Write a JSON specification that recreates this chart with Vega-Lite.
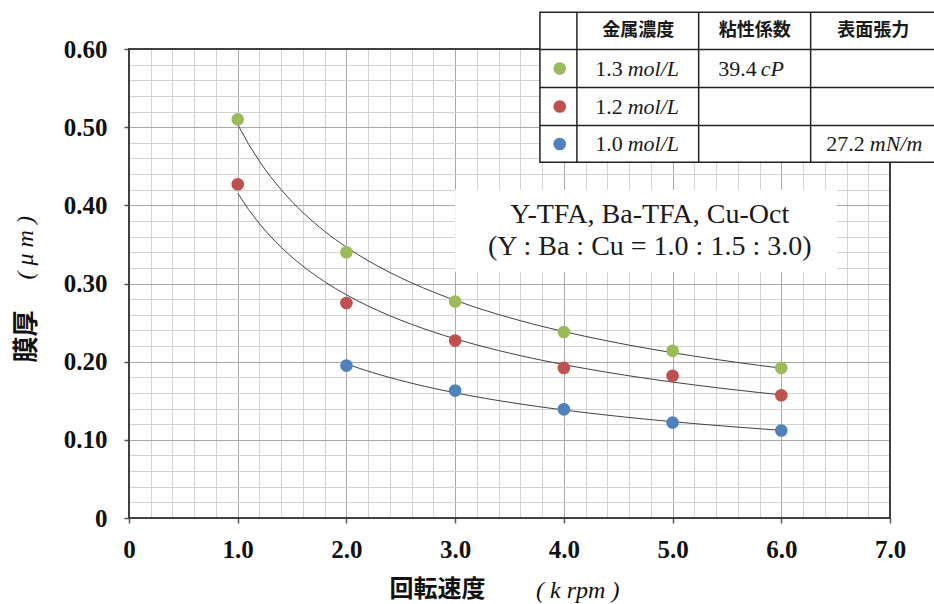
{
  "$schema": "https://vega.github.io/schema/vega-lite/v6.json",
  "width": 761,
  "height": 469,
  "autosize": {"type": "none"},
  "padding": {"left": 129, "top": 49, "right": 44, "bottom": 86},
  "background": "white",
  "config": {"view": {"stroke": null}},
  "data": {"values": [{}]},
  "datasets": {
    "thickness": [
      {"series": "1.3 mol/L", "rpm": 1, "thickness": 0.510},
      {"series": "1.3 mol/L", "rpm": 2, "thickness": 0.340},
      {"series": "1.3 mol/L", "rpm": 3, "thickness": 0.277},
      {"series": "1.3 mol/L", "rpm": 4, "thickness": 0.238},
      {"series": "1.3 mol/L", "rpm": 5, "thickness": 0.214},
      {"series": "1.3 mol/L", "rpm": 6, "thickness": 0.192},
      {"series": "1.2 mol/L", "rpm": 1, "thickness": 0.427},
      {"series": "1.2 mol/L", "rpm": 2, "thickness": 0.275},
      {"series": "1.2 mol/L", "rpm": 3, "thickness": 0.227},
      {"series": "1.2 mol/L", "rpm": 4, "thickness": 0.192},
      {"series": "1.2 mol/L", "rpm": 5, "thickness": 0.182},
      {"series": "1.2 mol/L", "rpm": 6, "thickness": 0.157},
      {"series": "1.0 mol/L", "rpm": 2, "thickness": 0.195},
      {"series": "1.0 mol/L", "rpm": 3, "thickness": 0.163},
      {"series": "1.0 mol/L", "rpm": 4, "thickness": 0.139},
      {"series": "1.0 mol/L", "rpm": 5, "thickness": 0.122},
      {"series": "1.0 mol/L", "rpm": 6, "thickness": 0.112}
    ],
    "solutions": [
      {"series": "1.3 mol/L", "conc": 1.3, "visc": 39.4, "tension": null},
      {"series": "1.2 mol/L", "conc": 1.2, "visc": null, "tension": null},
      {"series": "1.0 mol/L", "conc": 1.0, "visc": null, "tension": 27.2}
    ]
  },
  "resolve": {"axis": {"x": "independent", "y": "independent"}},
  "layer": [
    {
      "mark": {"type": "rect", "fillOpacity": 0, "stroke": "#404040", "strokeWidth": 2},
      "encoding": {
        "x": {"datum": 0, "axis": null}, "x2": {"datum": 7},
        "y": {"datum": 0, "axis": null}, "y2": {"datum": 0.6}
      }
    },
    {
      "mark": {"type": "rect", "fill": "white"},
      "encoding": {
        "x": {"datum": 3.0, "axis": null}, "x2": {"datum": 6.51},
        "y": {"datum": 0.42, "axis": null}, "y2": {"datum": 0.315}
      }
    },
    {
      "mark": {"type": "text", "align": "center", "baseline": "middle", "font": "Liberation Serif", "fontSize": 28, "color": "#1a1a1a"},
      "encoding": {"x": {"datum": 4.79, "axis": null}, "y": {"datum": 0.388, "axis": null}, "text": {"value": "Y-TFA, Ba-TFA, Cu-Oct"}}
    },
    {
      "mark": {"type": "text", "align": "center", "baseline": "middle", "font": "Liberation Serif", "fontSize": 28, "color": "#1a1a1a"},
      "encoding": {"x": {"datum": 4.79, "axis": null}, "y": {"datum": 0.3466, "axis": null}, "text": {"value": "(Y : Ba : Cu = 1.0 : 1.5 : 3.0)"}}
    },
    {
      "data": {"name": "thickness"},
      "transform": [
        {"regression": "thickness", "on": "rpm", "groupby": ["series"], "method": "pow"}
      ],
      "mark": {"type": "line", "color": "#404040", "strokeWidth": 1},
      "encoding": {
        "x": {"field": "rpm", "type": "quantitative", "axis": null},
        "y": {"field": "thickness", "type": "quantitative", "axis": null},
        "detail": {"field": "series", "type": "nominal"}
      }
    },
    {
      "data": {"name": "thickness"},
      "mark": {"type": "point", "filled": true, "size": 160, "opacity": 1},
      "encoding": {
        "x": {
          "field": "rpm", "type": "quantitative",
          "scale": {"domain": [0, 7], "nice": false, "zero": false},
          "axis": {
            "title": "回転速度",
            "values": [0, 0.2, 0.4, 0.6, 0.8, 1, 1.2, 1.4, 1.6, 1.8, 2, 2.2, 2.4, 2.6, 2.8, 3, 3.2, 3.4, 3.6, 3.8, 4, 4.2, 4.4, 4.6, 4.8, 5, 5.2, 5.4, 5.6, 5.8, 6, 6.2, 6.4, 6.6, 6.8, 7],
            "orient": "bottom",
            "domain": false,
            "grid": true,
            "gridColor": {"condition": {"test": "abs(datum.value - round(datum.value)) < 0.001", "value": "#a8a8a8"}, "value": "#d2d2d2"},
            "gridWidth": 1,
            "tickSize": 5,
            "tickWidth": 1.5,
            "tickColor": "#555555",
            "tickOpacity": {"condition": {"test": "abs(datum.value - round(datum.value)) < 0.001", "value": 1}, "value": 0},
            "labelExpr": "abs(datum.value - round(datum.value)) < 0.001 ? (datum.value == 0 ? '0' : format(datum.value, '.1f')) : ''",
            "labelFont": "Liberation Serif",
            "labelFontSize": 25,
            "labelFontWeight": "bold",
            "labelColor": "#111111",
            "labelPadding": 14,
            "labelOverlap": false,
            "labelFlush": false,
            "labelBound": false,
            "titleFont": "Noto Sans CJK JP",
            "titleFontSize": 24,
            "titleFontWeight": "bold",
            "titleColor": "#111111",
            "titleX": 308,
            "titleY": 71,
            "titleAlign": "center",
            "titleBaseline": "middle"
          }
        },
        "y": {
          "field": "thickness", "type": "quantitative",
          "scale": {"domain": [0, 0.6], "nice": false, "zero": false},
          "axis": {
            "title": "膜厚",
            "values": [0, 0.02, 0.04, 0.06, 0.08, 0.1, 0.12, 0.14, 0.16, 0.18, 0.2, 0.22, 0.24, 0.26, 0.28, 0.3, 0.32, 0.34, 0.36, 0.38, 0.4, 0.42, 0.44, 0.46, 0.48, 0.5, 0.52, 0.54, 0.56, 0.58, 0.6],
            "orient": "left",
            "domain": false,
            "grid": true,
            "gridColor": {"condition": {"test": "abs(datum.value * 10 - round(datum.value * 10)) < 0.001", "value": "#a8a8a8"}, "value": "#d2d2d2"},
            "gridWidth": 1,
            "tickSize": 5,
            "tickWidth": 1.5,
            "tickColor": "#555555",
            "tickOpacity": {"condition": {"test": "abs(datum.value * 10 - round(datum.value * 10)) < 0.001", "value": 1}, "value": 0},
            "labelExpr": "abs(datum.value * 10 - round(datum.value * 10)) < 0.001 ? (datum.value == 0 ? '0' : format(datum.value, '.2f')) : ''",
            "labelFont": "Liberation Serif",
            "labelFontSize": 25,
            "labelFontWeight": "bold",
            "labelColor": "#111111",
            "labelPadding": 17,
            "labelOverlap": false,
            "labelFlush": false,
            "labelBound": false,
            "titleFont": "Noto Sans CJK JP",
            "titleFontSize": 26,
            "titleFontWeight": "bold",
            "titleColor": "#111111",
            "titleAngle": 270,
            "titleX": -103,
            "titleY": 287,
            "titleAlign": "center",
            "titleBaseline": "middle"
          }
        },
        "color": {
          "field": "series", "type": "nominal",
          "scale": {"domain": ["1.3 mol/L", "1.2 mol/L", "1.0 mol/L"], "range": ["#9BBB59", "#C0504D", "#4F81BD"]},
          "legend": null
        }
      }
    },
    {
      "mark": {"type": "text", "align": "center", "baseline": "middle", "font": "Liberation Serif", "fontSize": 24, "fontStyle": "italic", "color": "#111111"},
      "encoding": {"x": {"datum": 4.128, "axis": null}, "y": {"datum": -0.0935, "axis": null}, "text": {"value": "( k rpm )"}}
    },
    {
      "mark": {"type": "text", "align": "center", "baseline": "middle", "angle": 270, "font": "Liberation Serif", "fontSize": 24, "fontStyle": "italic", "color": "#111111"},
      "encoding": {"x": {"datum": -0.95, "axis": null}, "y": {"datum": 0.3457, "axis": null}, "text": {"value": "( μ m )"}}
    },
    {
      "mark": {"type": "rect", "fill": "white", "stroke": "#222222", "strokeWidth": 1.5},
      "encoding": {
        "x": {"datum": 3.78, "axis": null}, "x2": {"datum": 7.6},
        "y": {"datum": 0.455, "axis": null}, "y2": {"datum": 0.647}
      }
    },
    {
      "mark": {"type": "rule", "color": "#222222", "strokeWidth": 1.5},
      "encoding": {"x": {"datum": 4.12, "axis": null}, "y": {"datum": 0.455, "axis": null}, "y2": {"datum": 0.647}}
    },
    {
      "mark": {"type": "rule", "color": "#222222", "strokeWidth": 1.5},
      "encoding": {"x": {"datum": 5.24, "axis": null}, "y": {"datum": 0.455, "axis": null}, "y2": {"datum": 0.647}}
    },
    {
      "mark": {"type": "rule", "color": "#222222", "strokeWidth": 1.5},
      "encoding": {"x": {"datum": 6.27, "axis": null}, "y": {"datum": 0.455, "axis": null}, "y2": {"datum": 0.647}}
    },
    {
      "mark": {"type": "rule", "color": "#222222", "strokeWidth": 1.5},
      "encoding": {"x": {"datum": 3.78, "axis": null}, "x2": {"datum": 7.6}, "y": {"datum": 0.5993, "axis": null}}
    },
    {
      "mark": {"type": "rule", "color": "#222222", "strokeWidth": 1.5},
      "encoding": {"x": {"datum": 3.78, "axis": null}, "x2": {"datum": 7.6}, "y": {"datum": 0.5507, "axis": null}}
    },
    {
      "mark": {"type": "rule", "color": "#222222", "strokeWidth": 1.5},
      "encoding": {"x": {"datum": 3.78, "axis": null}, "x2": {"datum": 7.6}, "y": {"datum": 0.5021, "axis": null}}
    },
    {
      "mark": {"type": "text", "align": "center", "baseline": "middle", "font": "Noto Sans CJK JP", "fontSize": 18, "fontWeight": "bold", "color": "#1a1a1a"},
      "encoding": {"x": {"datum": 4.684, "axis": null}, "y": {"datum": 0.6233, "axis": null}, "text": {"value": "金属濃度"}}
    },
    {
      "mark": {"type": "text", "align": "center", "baseline": "middle", "font": "Noto Sans CJK JP", "fontSize": 18, "fontWeight": "bold", "color": "#1a1a1a"},
      "encoding": {"x": {"datum": 5.756, "axis": null}, "y": {"datum": 0.6233, "axis": null}, "text": {"value": "粘性係数"}}
    },
    {
      "mark": {"type": "text", "align": "center", "baseline": "middle", "font": "Noto Sans CJK JP", "fontSize": 18, "fontWeight": "bold", "color": "#1a1a1a"},
      "encoding": {"x": {"datum": 6.846, "axis": null}, "y": {"datum": 0.6233, "axis": null}, "text": {"value": "表面張力"}}
    },
    {
      "data": {"name": "solutions"},
      "transform": [{"filter": "datum.series === '1.3 mol/L'"}],
      "mark": {"type": "point", "filled": true, "size": 160, "opacity": 1},
      "encoding": {"x": {"datum": 3.962, "axis": null}, "y": {"datum": 0.575, "axis": null}, "color": {"field": "series", "type": "nominal", "legend": null}}
    },
    {
      "data": {"name": "solutions"},
      "transform": [{"filter": "datum.series === '1.2 mol/L'"}],
      "mark": {"type": "point", "filled": true, "size": 160, "opacity": 1},
      "encoding": {"x": {"datum": 3.962, "axis": null}, "y": {"datum": 0.5264, "axis": null}, "color": {"field": "series", "type": "nominal", "legend": null}}
    },
    {
      "data": {"name": "solutions"},
      "transform": [{"filter": "datum.series === '1.0 mol/L'"}],
      "mark": {"type": "point", "filled": true, "size": 160, "opacity": 1},
      "encoding": {"x": {"datum": 3.962, "axis": null}, "y": {"datum": 0.4785, "axis": null}, "color": {"field": "series", "type": "nominal", "legend": null}}
    },
    {
      "data": {"name": "solutions"},
      "transform": [{"filter": "datum.series === '1.3 mol/L'"}],
      "mark": {"type": "text", "align": "right", "baseline": "middle", "font": "Liberation Serif", "fontSize": 22, "color": "#1a1a1a"},
      "encoding": {"x": {"datum": 4.541, "axis": null}, "y": {"datum": 0.575, "axis": null}, "text": {"field": "conc", "type": "quantitative", "format": ".1f"}}
    },
    {
      "data": {"name": "solutions"},
      "transform": [{"filter": "datum.series === '1.2 mol/L'"}],
      "mark": {"type": "text", "align": "right", "baseline": "middle", "font": "Liberation Serif", "fontSize": 22, "color": "#1a1a1a"},
      "encoding": {"x": {"datum": 4.541, "axis": null}, "y": {"datum": 0.5264, "axis": null}, "text": {"field": "conc", "type": "quantitative", "format": ".1f"}}
    },
    {
      "data": {"name": "solutions"},
      "transform": [{"filter": "datum.series === '1.0 mol/L'"}],
      "mark": {"type": "text", "align": "right", "baseline": "middle", "font": "Liberation Serif", "fontSize": 22, "color": "#1a1a1a"},
      "encoding": {"x": {"datum": 4.541, "axis": null}, "y": {"datum": 0.4785, "axis": null}, "text": {"field": "conc", "type": "quantitative", "format": ".1f"}}
    },
    {
      "mark": {"type": "text", "align": "left", "baseline": "middle", "font": "Liberation Serif", "fontSize": 22, "fontStyle": "italic", "color": "#1a1a1a"},
      "encoding": {"x": {"datum": 4.587, "axis": null}, "y": {"datum": 0.575, "axis": null}, "text": {"value": "mol/L"}}
    },
    {
      "mark": {"type": "text", "align": "left", "baseline": "middle", "font": "Liberation Serif", "fontSize": 22, "fontStyle": "italic", "color": "#1a1a1a"},
      "encoding": {"x": {"datum": 4.587, "axis": null}, "y": {"datum": 0.5264, "axis": null}, "text": {"value": "mol/L"}}
    },
    {
      "mark": {"type": "text", "align": "left", "baseline": "middle", "font": "Liberation Serif", "fontSize": 22, "fontStyle": "italic", "color": "#1a1a1a"},
      "encoding": {"x": {"datum": 4.587, "axis": null}, "y": {"datum": 0.4785, "axis": null}, "text": {"value": "mol/L"}}
    },
    {
      "data": {"name": "solutions"},
      "transform": [{"filter": "isValid(datum.visc)"}],
      "mark": {"type": "text", "align": "right", "baseline": "middle", "font": "Liberation Serif", "fontSize": 22, "color": "#1a1a1a"},
      "encoding": {"x": {"datum": 5.775, "axis": null}, "y": {"datum": 0.575, "axis": null}, "text": {"field": "visc", "type": "quantitative", "format": ".1f"}}
    },
    {
      "mark": {"type": "text", "align": "left", "baseline": "middle", "font": "Liberation Serif", "fontSize": 22, "fontStyle": "italic", "color": "#1a1a1a"},
      "encoding": {"x": {"datum": 5.81, "axis": null}, "y": {"datum": 0.575, "axis": null}, "text": {"value": "cP"}}
    },
    {
      "data": {"name": "solutions"},
      "transform": [{"filter": "isValid(datum.tension)"}],
      "mark": {"type": "text", "align": "right", "baseline": "middle", "font": "Liberation Serif", "fontSize": 22, "color": "#1a1a1a"},
      "encoding": {"x": {"datum": 6.768, "axis": null}, "y": {"datum": 0.4785, "axis": null}, "text": {"field": "tension", "type": "quantitative", "format": ".1f"}}
    },
    {
      "mark": {"type": "text", "align": "left", "baseline": "middle", "font": "Liberation Serif", "fontSize": 22, "fontStyle": "italic", "color": "#1a1a1a"},
      "encoding": {"x": {"datum": 6.814, "axis": null}, "y": {"datum": 0.4785, "axis": null}, "text": {"value": "mN/m"}}
    }
  ]
}
